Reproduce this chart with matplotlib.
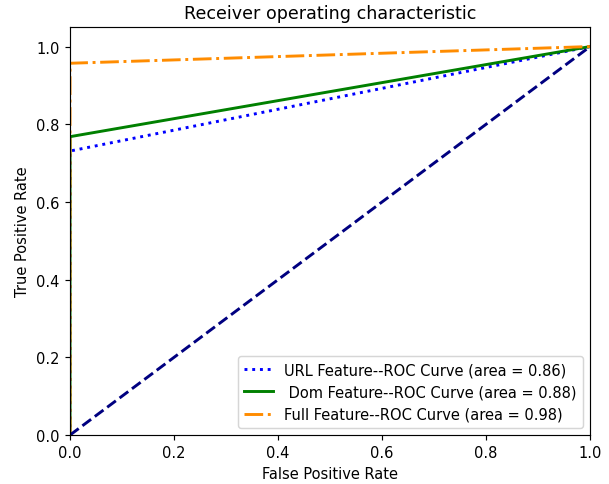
import matplotlib
matplotlib.use("Agg")
import matplotlib.pyplot as plt

# ROC points
fpr_url = [0.0, 0.0, 1.0]
tpr_url = [0.0, 0.731, 1.0]
fpr_dom = [0.0, 0.0, 1.0]
tpr_dom = [0.0, 0.768, 1.0]
fpr_full = [0.0, 0.0, 1.0]
tpr_full = [0.0, 0.957, 1.0]
auc_url, auc_dom, auc_full = 0.86, 0.88, 0.98
chance = [0.0, 1.0]

# slightly higher dpi than 100 so text and lines come out a bit larger
dpi = 105
fig = plt.figure(figsize=(609 / dpi, 485 / dpi), dpi=dpi)
ax = fig.add_axes([0.115, 0.101, 0.854, 0.841])

lw = 2
ax.plot(fpr_url, tpr_url, color='blue', lw=lw, linestyle=':',
        label='URL Feature--ROC Curve (area = %0.2f)' % auc_url)
ax.plot(fpr_dom, tpr_dom, color='green', lw=lw,
        label=' Dom Feature--ROC Curve (area = %0.2f)' % auc_dom)
ax.plot(fpr_full, tpr_full, color='darkorange', lw=lw, linestyle='-.',
        label='Full Feature--ROC Curve (area = %0.2f)' % auc_full)
ax.plot(chance, chance, color='navy', lw=lw, linestyle='--')

ax.set_xlim([0.0, 1.0])
ax.set_ylim([0.0, 1.05])
ax.set_xlabel('False Positive Rate')
ax.set_ylabel('True Positive Rate')
ax.set_title('Receiver operating characteristic')
ax.legend(loc='lower right')

fig.savefig('out.png', dpi=dpi)
